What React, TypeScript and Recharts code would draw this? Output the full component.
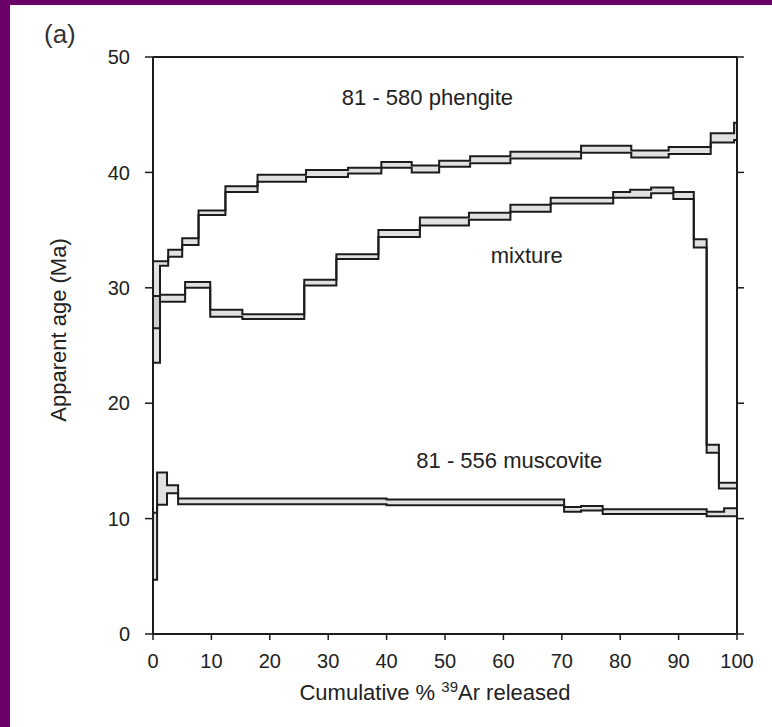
import {
  Area,
  ComposedChart,
  Label,
  Line,
  ReferenceDot,
  XAxis,
  YAxis,
} from "recharts";

// cumulative % 39Ar where each heating step starts, with the 1-sigma age box (Ma)
const PHENGITE_START = [0, 1.2, 2.6, 5.0, 7.8, 12.4, 17.9, 26.2, 33.4, 39.1, 44.3, 49.0, 54.3, 61.2, 73.3, 81.9, 88.3, 95.5, 99.5];
const PHENGITE_LOW = [26.5, 31.9, 32.7, 33.7, 36.3, 38.3, 39.2, 39.6, 39.9, 40.4, 40.0, 40.5, 40.8, 41.2, 41.7, 41.3, 41.6, 42.6, 42.8];
const PHENGITE_HIGH = [32.3, 32.3, 33.3, 34.3, 36.7, 38.8, 39.8, 40.2, 40.4, 40.9, 40.6, 41.0, 41.4, 41.8, 42.3, 41.9, 42.2, 43.4, 44.3];

const MIXTURE_START = [0, 1.2, 5.5, 9.8, 15.3, 25.9, 31.4, 38.6, 45.7, 54.1, 61.2, 68.1, 78.8, 81.7, 85.3, 89.1, 92.6, 94.8, 96.9];
const MIXTURE_LOW = [23.5, 28.8, 30.0, 27.5, 27.3, 30.2, 32.5, 34.4, 35.4, 35.9, 36.6, 37.3, 37.8, 37.8, 38.2, 37.7, 33.5, 15.7, 12.6];
const MIXTURE_HIGH = [29.3, 29.4, 30.5, 28.1, 27.7, 30.7, 32.9, 35.0, 36.1, 36.5, 37.2, 37.8, 38.3, 38.5, 38.7, 38.3, 34.2, 16.4, 13.1];

const MUSCOVITE_START = [0, 0.7, 2.4, 4.3, 40, 70.4, 73.3, 77, 81.1, 94.8, 97.8];
const MUSCOVITE_LOW = [4.7, 11.2, 12.2, 11.25, 11.15, 10.6, 10.7, 10.4, 10.4, 10.2, 10.2];
const MUSCOVITE_HIGH = [10.5, 14.0, 12.9, 11.75, 11.65, 11.0, 11.1, 10.8, 10.8, 10.6, 10.9];

const X_TICKS = [0, 10, 20, 30, 40, 50, 60, 70, 80, 90, 100];
const Y_TICKS = [0, 10, 20, 30, 40, 50];

const SAMPLE_LABELS = [
  { text: "81 - 580 phengite", x: 47, y: 46.5 },
  { text: "mixture", x: 64, y: 32.8 },
  { text: "81 - 556 muscovite", x: 61, y: 15.1 },
];

const PURPLE = "#6a0068";
const INK = "#1c1c1c";
const FONT = "'Liberation Sans', Arial, sans-serif";

// step-after rows, last step closed at 100 %
function spectrum(start: number[], low: number[], high: number[]) {
  const rows = start.map((x, i) => ({ x, lo: low[i], hi: high[i], band: [low[i], high[i]] }));
  const n = start.length - 1;
  rows.push({ x: 100, lo: low[n], hi: high[n], band: [low[n], high[n]] });
  return rows;
}

const SERIES = [
  { key: "phengite", data: spectrum(PHENGITE_START, PHENGITE_LOW, PHENGITE_HIGH) },
  { key: "mixture", data: spectrum(MIXTURE_START, MIXTURE_LOW, MIXTURE_HIGH) },
  { key: "muscovite", data: spectrum(MUSCOVITE_START, MUSCOVITE_LOW, MUSCOVITE_HIGH) },
];

const tickStyle = { fontSize: 20, fill: "#222", fontFamily: FONT };

function XTitle(props: any) {
  const vb = props.viewBox || {};
  const cx = vb.x + vb.width / 2 - 10;
  return (
    <text x={cx} y={700} textAnchor="middle" fontSize={22} fill="#222" fontFamily={FONT}>
      <tspan>Cumulative % </tspan>
      <tspan fontSize={15} dy={-8}>39</tspan>
      <tspan dy={8}>Ar released</tspan>
    </text>
  );
}

function YTitle() {
  return (
    <text
      x={60}
      y={330}
      transform="rotate(-90 60 330)"
      textAnchor="middle"
      dominantBaseline="middle"
      fontSize={22}
      fill="#222"
      fontFamily={FONT}
    >
      Apparent age (Ma)
    </text>
  );
}

export default function App() {
  return (
    <div
      style={{
        position: "absolute",
        left: 0,
        top: 0,
        width: 772,
        height: 727,
        background: "#fff",
        overflow: "hidden",
      }}
    >
      <div style={{ position: "absolute", left: 0, top: 0, width: 10, height: 727, background: PURPLE }} />
      <div style={{ position: "absolute", left: 0, top: 0, width: 772, height: 5, background: PURPLE }} />
      <span
        style={{
          position: "absolute",
          left: 44,
          top: 19,
          fontFamily: FONT,
          fontSize: 26,
          color: "#333",
        }}
      >
        (a)
      </span>
      <ComposedChart
        width={772}
        height={727}
        margin={{ top: 47, right: 25, bottom: 33, left: 93 }}
        style={{ position: "absolute", left: 0, top: 0 }}
      >
        <XAxis
          type="number"
          dataKey="x"
          domain={[0, 100]}
          ticks={X_TICKS}
          height={60}
          tickSize={6}
          tickMargin={14}
          tick={tickStyle}
          stroke={INK}
          axisLine={{ stroke: INK, strokeWidth: 2 }}
          tickLine={{ stroke: INK, strokeWidth: 1.5 }}
          allowDataOverflow
        >
          <Label content={XTitle} />
        </XAxis>
        <XAxis
          xAxisId="top"
          orientation="top"
          type="number"
          domain={[0, 100]}
          ticks={X_TICKS}
          height={10}
          tickSize={7}
          tickFormatter={() => ""}
          axisLine={{ stroke: INK, strokeWidth: 2 }}
          tickLine={{ stroke: INK, strokeWidth: 1.5 }}
          allowDataOverflow
        />
        <YAxis
          type="number"
          domain={[0, 50]}
          ticks={Y_TICKS}
          width={60}
          tickSize={8}
          tickMargin={15}
          tick={tickStyle}
          axisLine={{ stroke: INK, strokeWidth: 2 }}
          tickLine={{ stroke: INK, strokeWidth: 1.5 }}
          allowDataOverflow
        >
          <Label content={YTitle} />
        </YAxis>
        <YAxis
          yAxisId="right"
          orientation="right"
          type="number"
          domain={[0, 50]}
          ticks={Y_TICKS}
          width={10}
          tickSize={7}
          tickFormatter={() => ""}
          axisLine={{ stroke: INK, strokeWidth: 2 }}
          tickLine={{ stroke: INK, strokeWidth: 1.5 }}
          allowDataOverflow
        />

        {SERIES.map((s) => (
          <Area
            key={s.key + "-band"}
            data={s.data}
            dataKey="band"
            type="stepAfter"
            stroke="none"
            fill="#9a9a9a"
            fillOpacity={0.3}
            isAnimationActive={false}
          />
        ))}
        {SERIES.map((s) => (
          <Line
            key={s.key + "-hi"}
            data={s.data}
            dataKey="hi"
            type="stepAfter"
            stroke={INK}
            strokeWidth={2}
            dot={false}
            isAnimationActive={false}
          />
        ))}
        {SERIES.map((s) => (
          <Line
            key={s.key + "-lo"}
            data={s.data}
            dataKey="lo"
            type="stepAfter"
            stroke={INK}
            strokeWidth={2}
            dot={false}
            isAnimationActive={false}
          />
        ))}

        {SAMPLE_LABELS.map((l) => (
          <ReferenceDot
            key={l.text}
            x={l.x}
            y={l.y}
            r={0}
            fill="none"
            stroke="none"
            ifOverflow="visible"
            label={{
              value: l.text,
              position: "center",
              fontSize: 22,
              fill: "#222",
              fontFamily: FONT,
            }}
          />
        ))}
      </ComposedChart>
    </div>
  );
}
